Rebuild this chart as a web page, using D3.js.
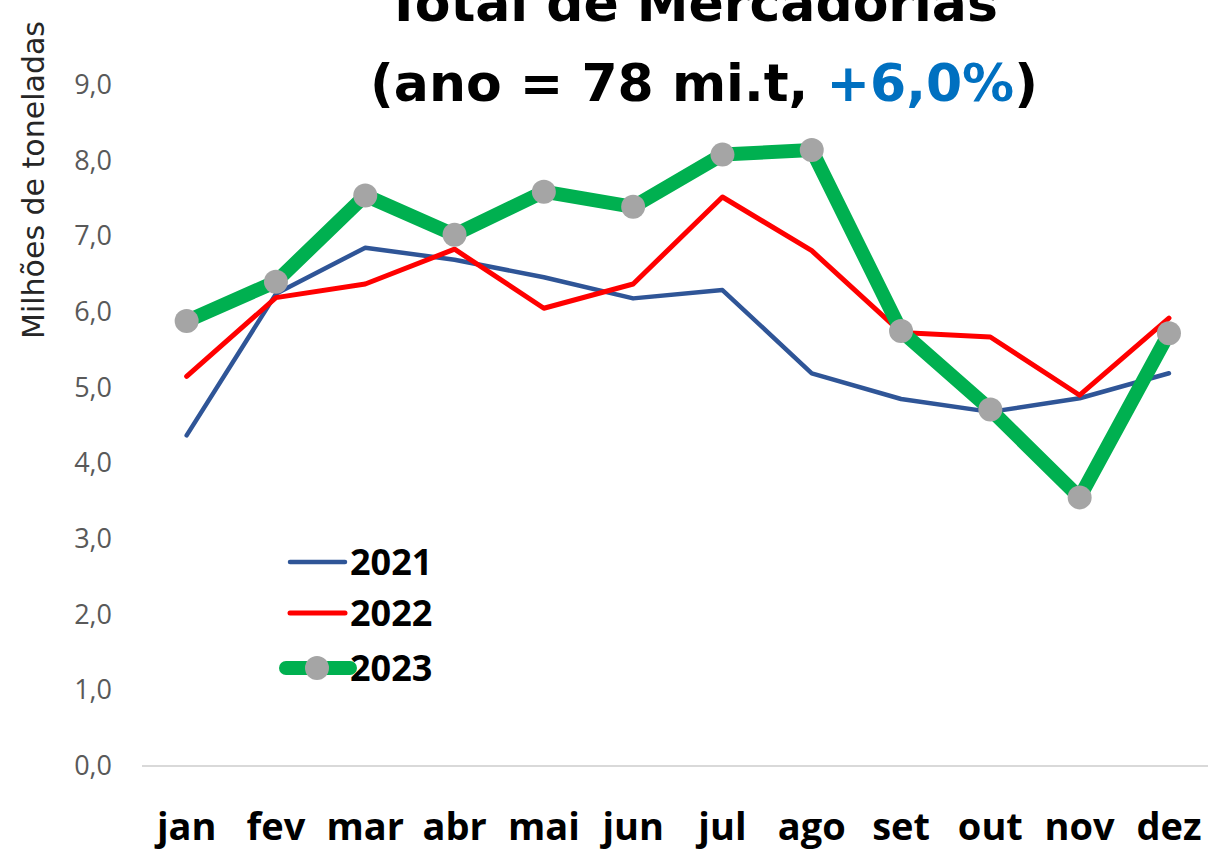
<!DOCTYPE html>
<html>
<head>
<meta charset="utf-8">
<script src="https://cdn.jsdelivr.net/npm/d3@7"></script>
<style>
  html, body { margin: 0; padding: 0; background: #fff; overflow: hidden; }
</style>
</head>
<body>
<div id="chart"></div>
<script>
const WIDTH = 1208;
const HEIGHT = 851;

const months = ['jan', 'fev', 'mar', 'abr', 'mai', 'jun', 'jul', 'ago', 'set', 'out', 'nov', 'dez'];
const yTicks = [0, 1, 2, 3, 4, 5, 6, 7, 8, 9];
const v2021 = [4.37, 6.24, 6.85, 6.69, 6.46, 6.18, 6.29, 5.19, 4.85, 4.68, 4.86, 5.19];
const v2022 = [5.15, 6.19, 6.37, 6.83, 6.05, 6.37, 7.52, 6.81, 5.73, 5.67, 4.90, 5.92];
const v2023 = [5.88, 6.40, 7.54, 7.02, 7.59, 7.39, 8.08, 8.14, 5.75, 4.71, 3.55, 5.72];

const series = [
  { name: '2021', values: v2021, color: '#2F5597', width: 4.5, marker: false },
  { name: '2022', values: v2022, color: '#FF0000', width: 5, marker: false },
  { name: '2023', values: v2023, color: '#00B050', width: 14, marker: true }
];

const svg = d3.select('#chart')
  .append('svg')
    .attr('width', WIDTH)
    .attr('height', HEIGHT);

const x = d3.scaleBand()
  .domain(months)
  .range([142, 142 + 12 * 89.3]);

const y = d3.scaleLinear()
  .domain([0, 9])
  .range([766, 85]);

// baseline
svg.append('line')
   .attr('x1', x.range()[0])
   .attr('x2', x.range()[1])
   .attr('y1', y(0))
   .attr('y2', y(0))
   .attr('stroke', '#D9D9D9')
   .attr('stroke-width', 2);

// y axis labels
const yAxis = svg.append('g')
  .attr('transform', 'translate(112,0)')
  .call(d3.axisLeft(y).tickValues(yTicks).tickSize(0).tickPadding(0)
          .tickFormat(d => d3.format('.1f')(d).replace('.', ',')));
yAxis.select('.domain').remove();
yAxis.selectAll('text')
     .attr('font-family', '"Open Sans", sans-serif')
     .attr('font-size', 27)
     .attr('fill', '#595959');

// x axis labels
const xAxis = svg.append('g')
  .attr('transform', 'translate(0,827)')
  .call(d3.axisBottom(x).tickSize(0).tickPadding(0));
xAxis.select('.domain').remove();
xAxis.selectAll('text')
     .attr('dy', '0.35em')
     .attr('font-family', '"Open Sans", sans-serif')
     .attr('font-weight', 700)
     .attr('font-size', 38)
     .attr('fill', '#000');

// y axis title
svg.append('text')
   .attr('transform', 'translate(44,180) rotate(-90)')
   .attr('text-anchor', 'middle')
   .attr('font-family', '"DejaVu Sans", sans-serif')
   .attr('font-size', 30)
   .attr('fill', '#262626')
   .text('Milhões de toneladas');

// lines
const line = d3.line()
  .x((d, i) => x(months[i]) + x.bandwidth() / 2)
  .y(d => y(d));

series.forEach(s => {
  svg.append('path')
     .datum(s.values)
     .attr('d', line)
     .attr('fill', 'none')
     .attr('stroke', s.color)
     .attr('stroke-width', s.width)
     .attr('stroke-linejoin', 'round')
     .attr('stroke-linecap', 'round');
  if (s.marker) {
    svg.selectAll('.m' + s.name)
       .data(s.values)
       .enter()
       .append('circle')
       .attr('cx', (d, i) => x(months[i]) + x.bandwidth() / 2)
       .attr('cy', d => y(d))
       .attr('r', 12)
       .attr('fill', '#A5A5A5');
  }
});

// legend
const legend = svg.append('g').attr('transform', 'translate(290,562)');
series.forEach((s, i) => {
  const g = legend.append('g').attr('transform', `translate(0, ${[0, 51, 106][i]})`);
  g.append('line')
   .attr('x1', s.marker ? -4 : 0)
   .attr('x2', s.marker ? 60 : 55)
   .attr('stroke', s.color)
   .attr('stroke-width', s.width)
   .attr('stroke-linecap', 'round');
  if (s.marker) {
    g.append('circle').attr('cx', 27).attr('r', 12).attr('fill', '#A5A5A5');
  }
  g.append('text')
   .attr('x', 60)
   .attr('dy', '0.36em')
   .attr('font-family', '"Open Sans", sans-serif')
   .attr('font-weight', 700)
   .attr('font-size', 36)
   .attr('fill', '#000')
   .text(s.name);
});

// title
const title = svg.append('text')
  .attr('text-anchor', 'middle')
  .attr('font-family', '"DejaVu Sans", sans-serif')
  .attr('font-weight', 700)
  .attr('font-size', 52)
  .attr('fill', '#000');
title.append('tspan').attr('x', 692).attr('y', 21).text('Total de Mercadorias');
const t2 = title.append('tspan').attr('x', 704).attr('y', 101);
t2.append('tspan').text('(ano = 78 mi.t, ');
t2.append('tspan').attr('fill', '#0070C0').text('+6,0%');
t2.append('tspan').text(')');
</script>
</body>
</html>
